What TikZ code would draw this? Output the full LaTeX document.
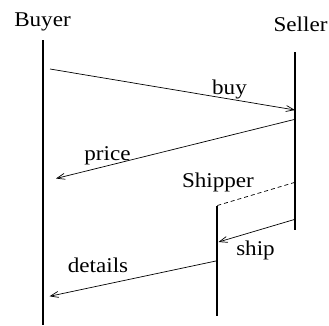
\documentclass[tikz,border=0pt]{standalone}
\usepackage{fontspec}
\setmainfont{Liberation Serif}
\usetikzlibrary{arrows.meta}
\begin{document}
\begin{tikzpicture}[x=1pt,y=-1pt,
  lifeline/.style={line width=1.8pt},
  msg/.style={line width=0.7pt,-{Straight Barb[length=8pt,width=6pt,line width=0.7pt]}},
  lbl/.style={font=\fontsize{21}{24}\selectfont,inner sep=0pt,anchor=base,xscale=1.1},
  handover/.style={line width=0.7pt,dash pattern=on 4pt off 3pt}]
\useasboundingbox (0,0) rectangle (329,325);
% lifelines
\coordinate (bTop) at (43.3,40);
\coordinate (bBot) at (43.3,325);
\coordinate (sTop) at (295,52);
\coordinate (sBot) at (295,230);
\coordinate (hTop) at (217.3,206);
\coordinate (hBot) at (217.3,316);
\draw[lifeline] (bTop) -- (bBot);
\draw[lifeline] (sTop) -- (sBot);
\draw[lifeline] (hTop) -- (hBot);
% labels
\node[lbl] (buyer) at (42.5,26.7) {Buyer};
\node[lbl] (seller) at (300.5,31.7) {Seller};
\node[lbl] (shipper) at (218,187) {Shipper};
\node[lbl] (lbuy) at (229.5,94) {buy};
\node[lbl] (lprice) at (107.5,160) {price};
\node[lbl] (lship) at (255.5,255) {ship};
\node[lbl] (ldetails) at (98,272) {details};
% message endpoints
\coordinate (buyS) at (50,69);
\coordinate (buyE) at (295,110);
\coordinate (priceS) at (295,119.3);
\coordinate (priceE) at (56,178.5);
\coordinate (dashS) at (217.3,205.5);
\coordinate (dashE) at (295,182.3);
\coordinate (shipS) at (295,219.3);
\coordinate (shipE) at (218.5,242);
\coordinate (detS) at (217.3,260.7);
\coordinate (detE) at (49.5,296.3);
\draw[msg] (buyS) -- (buyE);
\draw[msg] (priceS) -- (priceE);
\draw[handover] (dashS) -- (dashE);
\draw[msg] (shipS) -- (shipE);
\draw[msg] (detS) -- (detE);
\end{tikzpicture}
\end{document}
